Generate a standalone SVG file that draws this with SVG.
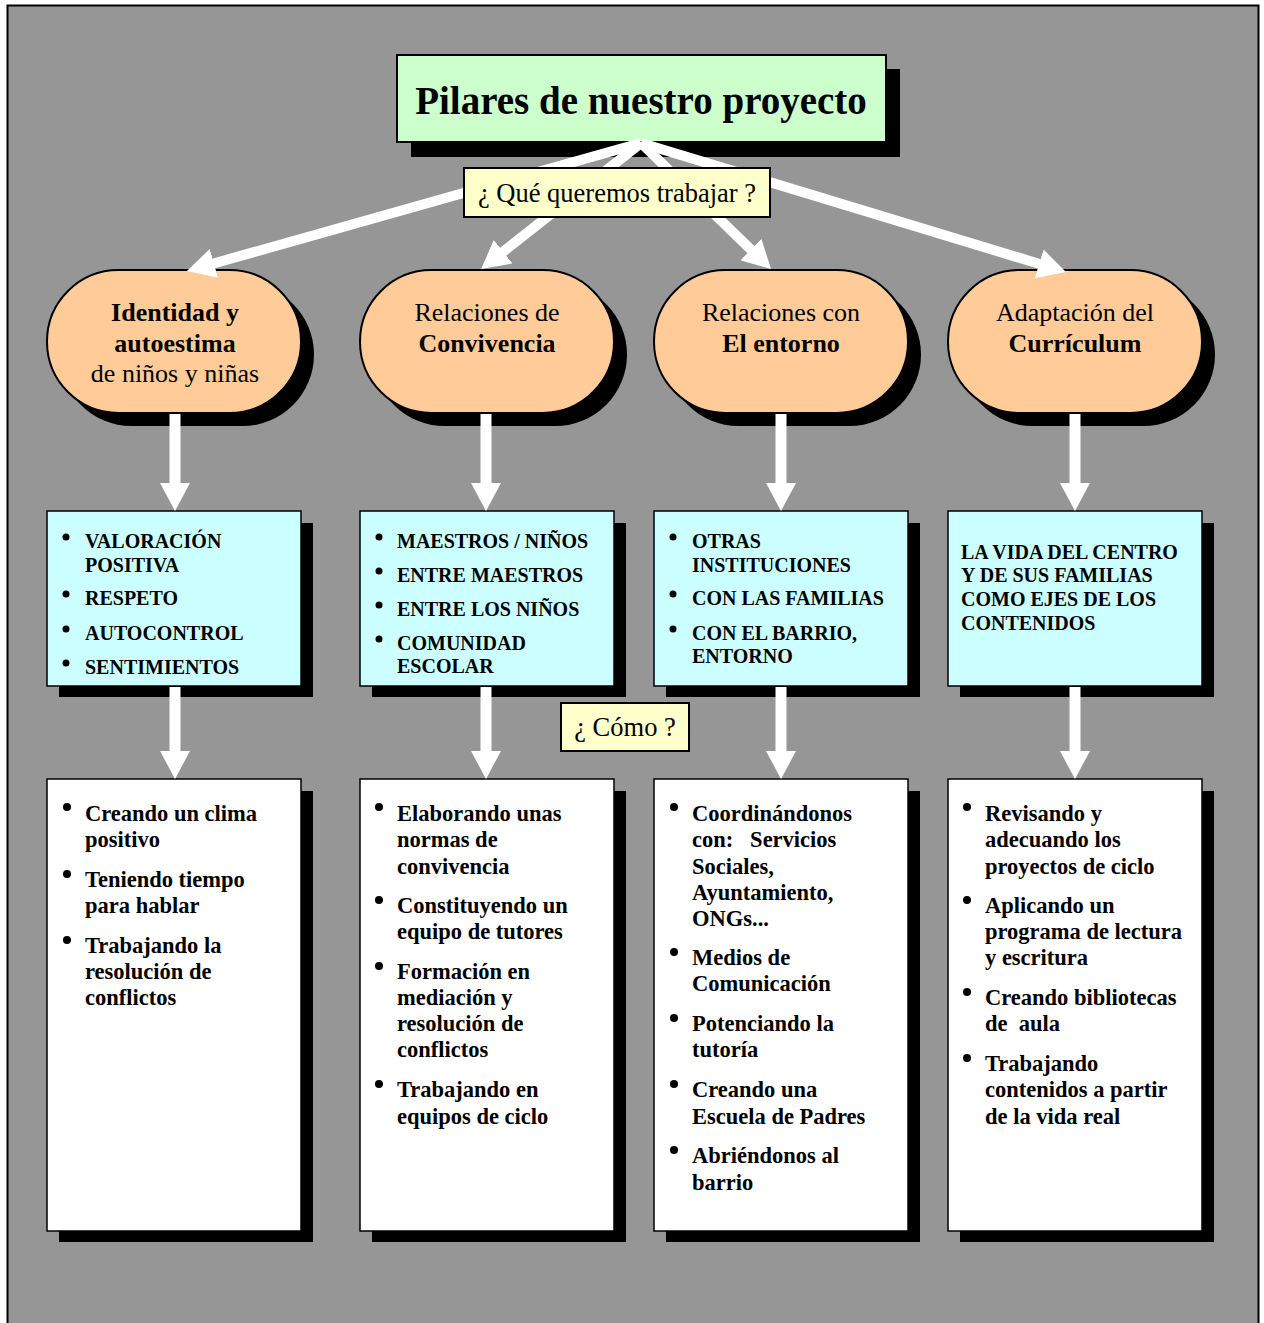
<svg xmlns="http://www.w3.org/2000/svg" width="1264" height="1323" viewBox="0 0 1264 1323">
<style>
  text { font-family: "Liberation Serif", "Times New Roman", serif; fill: #000; }
  .sh { fill: #000; }
  .title { fill: #ccffcc; stroke: #000; stroke-width: 2; }
  .label { fill: #ffffcc; stroke: #000; stroke-width: 2; }
  .oval { fill: #ffcc99; stroke: #000; stroke-width: 2; }
  .cyan { fill: #ccffff; stroke: #000; stroke-width: 1.5; }
  .white { fill: #ffffff; stroke: #000; stroke-width: 1.5; }
  .ov { font-size: 26px; text-anchor: middle; }
  .b { font-weight: bold; }
  .cy { font-size: 20px; font-weight: bold; }
  .wt { font-size: 22.5px; font-weight: bold; }
  .lb { font-size: 26.5px; text-anchor: middle; }
  .conn line { stroke: #fff; stroke-width: 10; fill: none; }
  .conn line.v { stroke-width: 11; }
</style>
<defs>
  <marker id="ah" markerUnits="userSpaceOnUse" viewBox="0 0 28 30" markerWidth="28" markerHeight="30" refX="4" refY="15" orient="auto">
    <path d="M0,0 L28,15 L0,30 z" fill="#fff"/>
  </marker>
</defs>
<rect x="0" y="0" width="1264" height="1323" fill="#fff"/>
<rect x="7.5" y="5.5" width="1251" height="1330" fill="#969696" stroke="#000" stroke-width="2"/>

<g id="title">
  <rect class="sh" x="411" y="69" width="489" height="88"/>
  <rect class="title" x="397" y="55" width="489" height="87"/>
  <text x="641" y="114" font-size="39" font-weight="bold" text-anchor="middle">Pilares de nuestro proyecto</text>
</g>

<g id="oval-identidad">
  <rect class="sh" x="60" y="283" width="254" height="143" rx="71.5"/>
  <rect class="oval" x="47" y="270" width="254" height="143" rx="71.5"/>
  <text class="ov b" x="175" y="321">Identidad y</text>
  <text class="ov b" x="175" y="352">autoestima</text>
  <text class="ov" x="175" y="382">de niños y niñas</text>
</g>
<g id="oval-convivencia">
  <rect class="sh" x="373" y="283" width="254" height="143" rx="71.5"/>
  <rect class="oval" x="360" y="270" width="254" height="143" rx="71.5"/>
  <text class="ov" x="487" y="321">Relaciones de</text>
  <text class="ov b" x="487" y="352">Convivencia</text>
</g>
<g id="oval-entorno">
  <rect class="sh" x="667" y="283" width="254" height="143" rx="71.5"/>
  <rect class="oval" x="654" y="270" width="254" height="143" rx="71.5"/>
  <text class="ov" x="781" y="321">Relaciones con</text>
  <text class="ov b" x="781" y="352">El entorno</text>
</g>
<g id="oval-curriculum">
  <rect class="sh" x="961" y="283" width="254" height="143" rx="71.5"/>
  <rect class="oval" x="948" y="270" width="254" height="143" rx="71.5"/>
  <text class="ov" x="1075" y="321">Adaptación del</text>
  <text class="ov b" x="1075" y="352">Currículum</text>
</g>

<g id="box-valores">
  <rect class="sh" x="59" y="523" width="254" height="174"/>
  <rect class="cyan" x="47" y="511" width="254" height="175"/>
  <circle cx="66" cy="537" r="3.5"/><circle cx="66" cy="594" r="3.5"/><circle cx="66" cy="629" r="3.5"/><circle cx="66" cy="663" r="3.5"/>
  <text class="cy" x="85" y="548">VALORACIÓN</text>
  <text class="cy" x="85" y="572">POSITIVA</text>
  <text class="cy" x="85" y="605">RESPETO</text>
  <text class="cy" x="85" y="640">AUTOCONTROL</text>
  <text class="cy" x="85" y="674">SENTIMIENTOS</text>
</g>
<g id="box-convivencia">
  <rect class="sh" x="372" y="523" width="254" height="174"/>
  <rect class="cyan" x="360" y="511" width="254" height="175"/>
  <circle cx="379" cy="537" r="3.5"/><circle cx="379" cy="571" r="3.5"/><circle cx="379" cy="605" r="3.5"/><circle cx="379" cy="639" r="3.5"/>
  <text class="cy" x="397" y="548">MAESTROS / NIÑOS</text>
  <text class="cy" x="397" y="582">ENTRE MAESTROS</text>
  <text class="cy" x="397" y="616">ENTRE LOS NIÑOS</text>
  <text class="cy" x="397" y="650">COMUNIDAD</text>
  <text class="cy" x="397" y="673">ESCOLAR</text>
</g>
<g id="box-entorno">
  <rect class="sh" x="666" y="523" width="254" height="174"/>
  <rect class="cyan" x="654" y="511" width="254" height="175"/>
  <circle cx="673" cy="537" r="3.5"/><circle cx="673" cy="594" r="3.5"/><circle cx="673" cy="629" r="3.5"/>
  <text class="cy" x="692" y="548">OTRAS</text>
  <text class="cy" x="692" y="572">INSTITUCIONES</text>
  <text class="cy" x="692" y="605">CON LAS FAMILIAS</text>
  <text class="cy" x="692" y="640">CON EL BARRIO,</text>
  <text class="cy" x="692" y="663">ENTORNO</text>
</g>
<g id="box-curriculum">
  <rect class="sh" x="960" y="523" width="254" height="174"/>
  <rect class="cyan" x="948" y="511" width="254" height="175"/>
  <text class="cy" x="961" y="559">LA VIDA DEL CENTRO</text>
  <text class="cy" x="961" y="582">Y DE SUS FAMILIAS</text>
  <text class="cy" x="961" y="606">COMO EJES DE LOS</text>
  <text class="cy" x="961" y="630">CONTENIDOS</text>
</g>

<g id="list-identidad">
  <rect class="sh" x="59" y="791" width="254" height="451"/>
  <rect class="white" x="47" y="779" width="254" height="452"/>
  <circle cx="67" cy="807" r="4"/><circle cx="67" cy="874" r="4"/><circle cx="67" cy="940" r="4"/>
  <text class="wt" x="85" y="821">Creando un clima</text>
  <text class="wt" x="85" y="847">positivo</text>
  <text class="wt" x="85" y="887">Teniendo tiempo</text>
  <text class="wt" x="85" y="913">para hablar</text>
  <text class="wt" x="85" y="953">Trabajando la</text>
  <text class="wt" x="85" y="979">resolución de</text>
  <text class="wt" x="85" y="1005">conflictos</text>
</g>
<g id="list-convivencia">
  <rect class="sh" x="372" y="791" width="254" height="451"/>
  <rect class="white" x="360" y="779" width="254" height="452"/>
  <circle cx="379" cy="807" r="4"/><circle cx="379" cy="900" r="4"/><circle cx="379" cy="966" r="4"/><circle cx="379" cy="1084" r="4"/>
  <text class="wt" x="397" y="821">Elaborando unas</text>
  <text class="wt" x="397" y="847">normas de</text>
  <text class="wt" x="397" y="874">convivencia</text>
  <text class="wt" x="397" y="913">Constituyendo un</text>
  <text class="wt" x="397" y="939">equipo de tutores</text>
  <text class="wt" x="397" y="979">Formación en</text>
  <text class="wt" x="397" y="1005">mediación y</text>
  <text class="wt" x="397" y="1031">resolución de</text>
  <text class="wt" x="397" y="1057">conflictos</text>
  <text class="wt" x="397" y="1097">Trabajando en</text>
  <text class="wt" x="397" y="1124">equipos de ciclo</text>
</g>
<g id="list-entorno">
  <rect class="sh" x="666" y="791" width="254" height="451"/>
  <rect class="white" x="654" y="779" width="254" height="452"/>
  <circle cx="674" cy="807" r="4"/><circle cx="674" cy="952" r="4"/><circle cx="674" cy="1018" r="4"/><circle cx="674" cy="1084" r="4"/><circle cx="674" cy="1150" r="4"/>
  <text class="wt" x="692" y="821">Coordinándonos</text>
  <text class="wt" x="692" y="847" xml:space="preserve">con:   Servicios</text>
  <text class="wt" x="692" y="874">Sociales,</text>
  <text class="wt" x="692" y="900">Ayuntamiento,</text>
  <text class="wt" x="692" y="926">ONGs...</text>
  <text class="wt" x="692" y="965">Medios de</text>
  <text class="wt" x="692" y="991">Comunicación</text>
  <text class="wt" x="692" y="1031">Potenciando la</text>
  <text class="wt" x="692" y="1057">tutoría</text>
  <text class="wt" x="692" y="1097">Creando una</text>
  <text class="wt" x="692" y="1124">Escuela de Padres</text>
  <text class="wt" x="692" y="1163">Abriéndonos al</text>
  <text class="wt" x="692" y="1190">barrio</text>
</g>
<g id="list-curriculum">
  <rect class="sh" x="960" y="791" width="254" height="451"/>
  <rect class="white" x="948" y="779" width="254" height="452"/>
  <circle cx="967" cy="807" r="4"/><circle cx="967" cy="900" r="4"/><circle cx="967" cy="992" r="4"/><circle cx="967" cy="1058" r="4"/>
  <text class="wt" x="985" y="821">Revisando y</text>
  <text class="wt" x="985" y="847">adecuando los</text>
  <text class="wt" x="985" y="874">proyectos de ciclo</text>
  <text class="wt" x="985" y="913">Aplicando un</text>
  <text class="wt" x="985" y="939">programa de lectura</text>
  <text class="wt" x="985" y="965">y escritura</text>
  <text class="wt" x="985" y="1005">Creando bibliotecas</text>
  <text class="wt" x="985" y="1031" xml:space="preserve">de  aula</text>
  <text class="wt" x="985" y="1071">Trabajando</text>
  <text class="wt" x="985" y="1097">contenidos a partir</text>
  <text class="wt" x="985" y="1124">de la vida real</text>
</g>

<g id="connectors" class="conn">
  <line x1="641" y1="143" x2="210" y2="264.5" marker-end="url(#ah)"/>
  <line x1="641" y1="143" x2="500" y2="254.2" marker-end="url(#ah)"/>
  <line x1="641" y1="143" x2="753.8" y2="252.3" marker-end="url(#ah)"/>
  <line x1="641" y1="143" x2="1043" y2="265" marker-end="url(#ah)"/>
  <line class="v" x1="175" y1="414" x2="175" y2="487" marker-end="url(#ah)"/>
  <line class="v" x1="486" y1="414" x2="486" y2="487" marker-end="url(#ah)"/>
  <line class="v" x1="781" y1="414" x2="781" y2="487" marker-end="url(#ah)"/>
  <line class="v" x1="1075" y1="414" x2="1075" y2="487" marker-end="url(#ah)"/>
  <line class="v" x1="175" y1="687" x2="175" y2="755" marker-end="url(#ah)"/>
  <line class="v" x1="486" y1="687" x2="486" y2="755" marker-end="url(#ah)"/>
  <line class="v" x1="781" y1="687" x2="781" y2="755" marker-end="url(#ah)"/>
  <line class="v" x1="1075" y1="687" x2="1075" y2="755" marker-end="url(#ah)"/>
</g>

<g id="label-que">
  <rect class="label" x="464" y="168" width="306" height="49"/>
  <text class="lb" x="617" y="202">¿ Qué queremos trabajar ?</text>
</g>

<g id="label-como">
  <rect class="label" x="561" y="703" width="128" height="48"/>
  <text class="lb" x="625" y="736">¿ Cómo ?</text>
</g>
</svg>
